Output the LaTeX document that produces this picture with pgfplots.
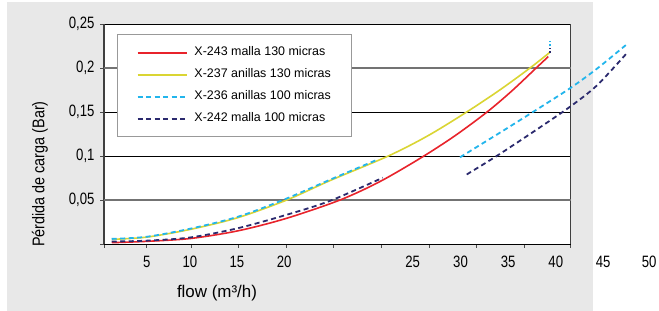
\documentclass[border=0pt]{standalone}
\usepackage{pgfplots}
\pgfplotsset{compat=1.18}
\usepackage{fontspec}
\setmainfont{Liberation Sans}
\newfontfamily\cond[FakeStretch=0.8]{Liberation Sans}
\newfontfamily\condb[FakeStretch=0.85]{Liberation Sans}
\definecolor{cred}{HTML}{E8232B}
\definecolor{cyel}{HTML}{DAD533}
\definecolor{cblue}{HTML}{22B5EC}
\definecolor{cnavy}{HTML}{2B2A6E}
\definecolor{bggray}{HTML}{E8E8E8}
\begin{document}
\begin{tikzpicture}
\path[use as bounding box] (0bp,0bp) rectangle (659bp,311bp);
\fill[bggray] (7bp,0bp) rectangle (593bp,309bp);
\begin{axis}[
  at={(104bp,67bp)}, anchor=south west,
  width=466.7bp, height=220bp, scale only axis,
  xmin=0, xmax=50, ymin=0, ymax=0.25,
  clip=false,
  axis background/.style={fill=white},
  separate axis lines,
  x axis line style={black, line width=0.8pt},
  y axis line style={black!75, line width=1.5pt},
  tick align=outside, xtick pos=bottom, ytick pos=left,
  major tick length=4bp,
  tick style={black!70, line width=0.8pt},
  xtick={0,4.5,9.32,14.36,19.5,24.54,29.68,34.82,39.86,45,50},
  xticklabels={},
  ytick={0,0.1,0.15,0.25},
  yticklabels={,0{,}1,0{,}15,0{,}25},
  extra y ticks={0.05,0.2},
  extra y tick labels={0{,}05,0{,}2},
  extra y tick style={grid style={draw=black!55, line width=1.3pt}},
  ymajorgrids,
  grid style={draw=black, line width=0.7pt},
  yticklabel style={font=\cond\fontsize{16.5}{16.5}\selectfont, xshift=-2bp},
  legend style={at={(0.0285,0.953)}, anchor=north west, draw=black!40, fill=white,
    line width=0.8pt,
    font=\fontsize{12.5}{13}\selectfont, inner xsep=19bp, inner ysep=12bp,
    row sep=10bp, column sep=7bp,
    nodes={inner sep=0pt, text height=9bp, text depth=3bp}},
  legend cell align=left,
  legend image code/.code={\draw[#1] (0bp,0bp) -- (49bp,0bp);},
]
% X-243 malla 130 micras
\addplot[cred, line width=1.6pt, smooth] coordinates {
 (0.83,0.0015) (4.57,0.0030) (9.29,0.0063) (14.36,0.015) (19.5,0.029)
 (25.29,0.050) (29.57,0.071) (33.97,0.098) (37.6,0.123) (41.04,0.150) (43.7,0.174) (46.3,0.200) (47.6,0.213)};
\addlegendentry{\makebox[138bp][l]{X-243 malla 130 micras}}
% X-237 anillas 130 micras
\addplot[cyel, line width=1.6pt, smooth] coordinates {
 (0.83,0.0053) (4.57,0.0078) (9.29,0.0167) (14.36,0.030) (19.58,0.050)
 (24.2,0.072) (30.46,0.100) (34.7,0.123) (38.86,0.150) (42.4,0.175) (45.64,0.200) (47.79,0.218)};
\addlegendentry{\makebox[138bp][l]{X-237 anillas 130 micras}}
% X-236 anillas 100 micras
\addplot[cblue, line width=1.8pt, dash pattern=on 5bp off 3.5bp, smooth] coordinates {
 (0.83,0.0058) (4.57,0.0082) (9.29,0.0175) (14.36,0.031) (19.18,0.050)
 (24.21,0.073) (29.21,0.0955)};
\addlegendentry{\makebox[138bp][l]{X-236 anillas 100 micras}}
% X-242 malla 100 micras
\addplot[cnavy, line width=1.8pt, dash pattern=on 5bp off 3.5bp, smooth] coordinates {
 (0.83,0.0028) (4.57,0.0038) (9.29,0.0075) (14.36,0.018) (19.5,0.033)
 (24.21,0.049) (29.86,0.0753)};
\addlegendentry{\makebox[138bp][l]{X-242 malla 100 micras}}
% second segments
\addplot[cblue, line width=1.8pt, dash pattern=on 5bp off 3.5bp, smooth, forget plot] coordinates {
 (38.14,0.0985) (42.8,0.129) (46.25,0.152) (49.93,0.177) (52.79,0.199) (55.9,0.226)};
\addplot[cnavy, line width=1.8pt, dash pattern=on 5bp off 3.5bp, smooth, forget plot] coordinates {
 (38.86,0.079) (42.07,0.100) (46.35,0.130) (49.93,0.156) (52.79,0.180) (56.0,0.2167)};
\addplot[cblue, line width=1.8pt, dash pattern=on 2bp off 2bp, forget plot] coordinates {
 (47.79,0.2245) (47.79,0.2305)};
\addplot[cnavy, line width=1.8pt, dash pattern=on 2bp off 2bp, forget plot] coordinates {
 (47.79,0.2175) (47.79,0.2225)};
% x tick labels
\foreach \xx/\lab in {4.57/5,9.2/10,14.24/15,19.3/20,33.07/25,38.2/30,43.3/35,48.4/40,53.47/45,58.4/50}{
  \edef\tmp{\noexpand\node[font=\noexpand\cond\noexpand\fontsize{16.5}{16.5}\noexpand\selectfont] at (axis cs:\xx,0) [yshift=-18bp] {\lab};}
  \tmp
}
\end{axis}
\node[rotate=90, font=\condb\fontsize{17}{17}\selectfont] at (40bp,137bp) {Pérdida de carga (Bar)};
\node[font=\fontsize{17}{18}\selectfont] at (217bp,18bp) {flow (m³/h)};
\end{tikzpicture}
\end{document}
